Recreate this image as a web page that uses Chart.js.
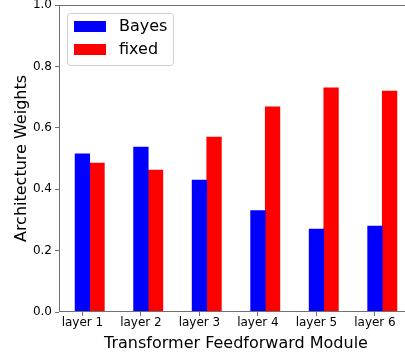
<!DOCTYPE html>
<html>
<head>
<meta charset="utf-8">
<script src="https://cdn.jsdelivr.net/npm/chart.js@4.4.1/dist/chart.umd.min.js"></script>
<style>
html, body { margin: 0; padding: 0; overflow: hidden; background: #fff; }
</style>
</head>
<body>
<canvas id="myChart" width="413" height="358"></canvas>
<script>
// values
var layers = ['layer 1', 'layer 2', 'layer 3', 'layer 4', 'layer 5', 'layer 6'];
var bayes = [0.515, 0.537, 0.43, 0.33, 0.27, 0.28];
var fixed = [0.485, 0.462, 0.57, 0.668, 0.73, 0.72];
var yTicks = [0, 0.2, 0.4, 0.6, 0.8, 1.0];

var FONT = "'DejaVu Sans', sans-serif";
var SPINE = '#707070';
var BAR_W = 0.25;   // bar width in x units, second series sits one bar to the right

// like matplotlib: bar(x, ...) and bar(x + width, ...), ticks at x
function points(vals, shift) {
  return vals.map(function (v, i) { return { x: i + shift, y: v }; });
}

// matplotlib style frame + legend inside the axes
var axesFrame = {
  id: 'axesFrame',
  afterDraw: function (chart) {
    var ctx = chart.ctx, a = chart.chartArea;
    ctx.save();
    ctx.strokeStyle = SPINE;
    ctx.lineWidth = 1;
    ctx.strokeRect(Math.round(a.left) + 0.5, Math.round(a.top) + 0.5,
      Math.round(a.right - a.left), Math.round(a.bottom - a.top) - 1);

    // legend box
    var bx = a.left + 8, by = a.top + 8, bw = 106, bh = 52;
    ctx.fillStyle = 'rgba(255,255,255,0.8)';
    ctx.strokeStyle = '#d0d0d0';
    ctx.beginPath();
    ctx.roundRect(bx + 0.5, by + 0.5, bw, bh, 3);
    ctx.fill();
    ctx.stroke();

    ctx.font = '16px ' + FONT;
    ctx.textBaseline = 'middle';
    ctx.textAlign = 'left';
    chart.data.datasets.forEach(function (ds, i) {
      var cy = by + 13.5 + i * 23;
      ctx.fillStyle = ds.backgroundColor;
      ctx.fillRect(bx + 7, cy - 5.5, 32, 11);
      ctx.fillStyle = '#000';
      ctx.fillText(ds.label, bx + 52, cy);
    });
    ctx.restore();
  }
};

var ctx = document.getElementById('myChart').getContext('2d');
var myChart = new Chart(ctx, {
  type: 'bar',
  data: {
    datasets: [{
      label: 'Bayes',
      data: points(bayes, 0),
      backgroundColor: '#0000ff',
      borderWidth: 0
    }, {
      label: 'fixed',
      data: points(fixed, BAR_W),
      backgroundColor: '#ff0000',
      borderWidth: 0
    }]
  },
  options: {
    responsive: false,
    animation: false,
    devicePixelRatio: 1,
    grouped: false,
    categoryPercentage: 1.0,
    barPercentage: 1.0,
    layout: { padding: { top: 5, right: 0, bottom: 0, left: 0 } },
    plugins: {
      legend: { display: false },
      tooltip: { enabled: false }
    },
    scales: {
      x: {
        type: 'linear',
        min: -0.4,
        max: 5.65,
        offset: false,
        afterBuildTicks: function (scale) {
          scale.ticks = layers.map(function (l, i) { return { value: i }; });
        },
        afterFit: function (scale) {
          scale.height = 46;
          scale.paddingLeft = 0;
          scale.paddingRight = 0;
        },
        grid: { display: true, drawOnChartArea: false, drawTicks: true, tickLength: 4, color: SPINE, offset: false },
        border: { display: false },
        ticks: {
          autoSkip: false,
          maxRotation: 0,
          padding: 0,
          color: '#000',
          font: { family: FONT, size: 12 },
          callback: function (v) { return layers[v]; }
        },
        title: {
          display: true,
          text: 'Transformer Feedforward Module',
          color: '#000',
          font: { family: FONT, size: 16 },
          padding: { top: 0, bottom: 5 }
        }
      },
      y: {
        min: 0,
        max: 1,
        afterBuildTicks: function (scale) {
          scale.ticks = yTicks.map(function (v) { return { value: v }; });
        },
        afterFit: function (scale) {
          scale.width = 59;
          scale.paddingTop = 0;
          scale.paddingBottom = 0;
        },
        grid: { display: true, drawOnChartArea: false, drawTicks: true, tickLength: 4, color: SPINE },
        border: { display: false },
        ticks: {
          padding: 3,
          color: '#000',
          font: { family: FONT, size: 12 },
          callback: function (v) { return v.toFixed(1); }
        },
        title: {
          display: true,
          text: 'Architecture Weights',
          color: '#000',
          font: { family: FONT, size: 16 },
          padding: { top: 12, bottom: 0 }
        }
      }
    }
  },
  plugins: [axesFrame]
});
</script>
</body>
</html>
